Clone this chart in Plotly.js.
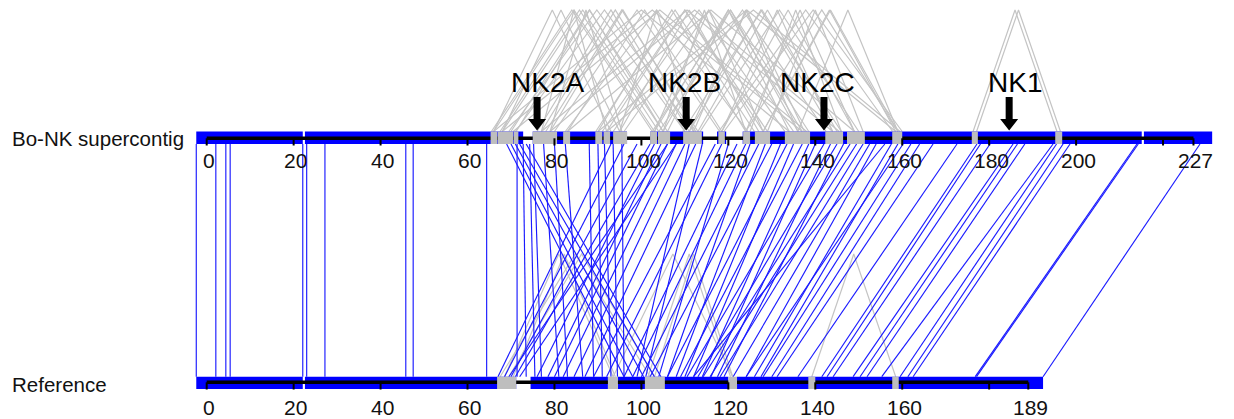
<!DOCTYPE html>
<html>
<head>
<meta charset="utf-8">
<script src="https://cdn.plot.ly/plotly-3.0.1.min.js"></script>
<style>html,body{margin:0;padding:0;background:#fff;}#chart{width:1234px;height:419px;}</style>
</head>
<body>
<div id="chart"></div>
<script>
// ---------- data (positions in kb) ----------
const topLength = 227;
const refLength = 189;
const topTicks = [0, 20, 40, 60, 80, 100, 120, 140, 160, 180, 200, 220, 227];
const topTickLabels = ["0", "20", "40", "60", "80", "100", "120", "140", "160", "180", "200", "", "227"];
const refTicks = [0, 20, 40, 60, 80, 100, 120, 140, 160, 180, 189];
const refTickLabels = ["0", "20", "40", "60", "80", "100", "120", "140", "160", "", "189"];

// blue contig blocks (start, end)
const topBlocks = [[-2.4, 22.1], [22.6, 72.8], [75, 96.7], [102, 114.2], [117.4, 119.5], [123.3, 215.1], [215.6, 231.3]];
const refBlocks = [[-2.4, 22.1], [22.6, 71.2], [74.5, 92.3], [94.6, 120], [122, 192.4]];

// grey repeat boxes (start, end)
const topRepeats = [[65.3, 66.9], [67, 70.5], [70.6, 71.7], [75, 80.6], [82, 83.6], [89.4, 91], [91.3, 92.8], [93.5, 96.7],
  [102, 103.6], [103.8, 106.6], [109.6, 113.9], [117.7, 119.2], [123.4, 125], [126.1, 129.6], [133, 138.8],
  [142.3, 146.4], [147.3, 151.4], [157.7, 160], [176, 177.4], [195.2, 196.8]];
const refRepeats = [[66.8, 71.2], [92.3, 94.6], [100.8, 105.4], [120, 122], [138.4, 140], [157.7, 159.2]];

// blue links: supercontig position -> reference position
const linkTop = [-2.4, 2.1, 4.4, 5.4, 22.1, 23, 27.2, 45.8, 47.5, 64.4,
  71.4, 72.8, 74.3, 75.2,
  69, 70, 71, 72, 73.5,
  93, 96, 99, 102, 106, 108,
  77.5, 80, 82.5, 88, 90, 91.5, 93.5, 95.5,
  103, 104.5, 106, 108, 110, 111, 112.5, 114, 117, 118.5, 120, 122, 124, 125, 127, 128.5, 130, 132, 133.5, 135,
  137, 138.5, 140, 142, 143.5, 145, 146.5, 148, 149.5, 151, 152.5, 154, 156, 157.5, 159,
  160.2, 162, 164, 167.1, 172.6, 177.2, 178, 180.2, 185.5, 186.5, 188.2, 194.7, 195.5, 197, 198.6, 214, 214.3, 228.5];
const linkRef = [-2.4, 2.1, 4.4, 5.4, 22.1, 23, 27.2, 45.8, 47.5, 64.4,
  71.4, 73.5, 75.5, 77,
  96, 98, 100.5, 103, 104.5,
  67, 68.5, 70, 71, 69.5, 72,
  81, 83, 86.5, 89, 91, 93, 94.5, 96,
  76, 78.5, 80, 82, 84.5, 99, 87, 101, 89, 92, 104, 96, 98, 106, 100, 108, 102, 110, 106, 112,
  109, 114, 116, 110.5, 117.5, 113, 119, 114.2, 115.8, 118.1, 121.1, 124.1, 112, 126, 127.5,
  124.1, 128, 130, 131.2, 136, 141.5, 142.7, 144.1, 148.7, 150.3, 151.9, 155.3, 159.5, 161.3, 162.5, 176.8, 177.1, 192.4];

// grey self-matches within the supercontig (position A, position B)
const topSelfA = [176.3, 177.1, 66, 68, 70, 71.2, 77, 79, 83, 90, 92, 95, 103, 105, 106, 111, 113, 118.5, 124, 128,
  66, 68, 70.5, 77, 79, 83, 90, 92, 66, 68, 77, 79, 95, 103, 105, 112, 111, 118.5, 124, 128, 136,
  65.5, 67.5, 69.5, 71, 76, 78, 80, 82.5, 89.5, 91, 93.5, 96, 102.5, 104, 109.5, 113.5, 117.8, 119, 125, 129];
const topSelfB = [195.6, 196.4, 103, 105, 106, 105, 111, 112.5, 118.5, 124, 128, 127, 137, 136, 134, 144, 145, 149, 159, 158.5,
  134, 137, 138, 144, 145.5, 149, 158.5, 159.5, 93, 95, 92, 95.5, 112, 128, 124, 136, 137.5, 144, 149, 159, 159,
  102.5, 104, 110, 112, 110, 113, 118, 124.5, 126, 129, 133, 135, 138.5, 142.5, 146, 150, 157.8, 160, 146, 151];

// grey self-matches within the reference
const refSelfA = [68.5, 69.5, 93.5, 103, 139.2, 70.5, 67.5, 101.5];
const refSelfB = [93.5, 103, 121, 121, 158.5, 94, 102, 120.5];

// gene markers
const geneNames = ["NK2A", "NK2B", "NK2C", "NK1"];
const genePos = [76, 110.3, 142, 184.6];
const geneLabelPos = [78.3, 110, 140.4, 186];

// ---------- layout constants (pixels, y measured from top) ----------
const PX0 = 206.7, PXU = 4.347, W = 1234, H = 419;
const XR = [-PX0 / PXU, (W - PX0) / PXU];
const T = {barTop: 131.5, barBot: 144, axis: 138.3, tick: 145.5, label: 160, apex: 10};
const R = {barTop: 376.7, barBot: 389, axis: 382.3, tick: 389.5, label: 407, apex: 254};

const shapes = [];
const annotations = [];
const FONT = "Liberation Sans, Arial, sans-serif";

function rect(x0, x1, y0, y1, color) {
  shapes.push({type: "rect", xref: "x", yref: "y", x0: x0, x1: x1, y0: y0, y1: y1,
    fillcolor: color, line: {width: 0}, layer: "above"});
}
function seg(x0, x1, y0, y1, color, w) {
  shapes.push({type: "line", xref: "x", yref: "y", x0: x0, x1: x1, y0: y0, y1: y1,
    line: {color: color, width: w}, layer: "above"});
}

function track(blocks, repeats, len, ticks, labels, S) {
  blocks.forEach(b => rect(b[0], b[1], S.barTop, S.barBot, "#0000ff"));
  seg(0, len, S.axis, S.axis, "#000", 3.5);
  repeats.forEach(r => rect(r[0], r[1], S.barTop, S.barBot, "#bebebe"));
  ticks.forEach((t, i) => {
    seg(t, t, S.axis, S.tick, "#000", 2);
    if (labels[i]) annotations.push({x: t + 0.5, y: S.label, xref: "x", yref: "y", text: labels[i], showarrow: false,
      xanchor: "center", yanchor: "middle", font: {family: FONT, size: 21, color: "#111"}});
  });
}
track(topBlocks, topRepeats, topLength, topTicks, topTickLabels, T);
track(refBlocks, refRepeats, refLength, refTicks, refTickLabels, R);

// links
const bx = [], by = [];
linkTop.forEach((t, i) => { bx.push(t, linkRef[i], null); by.push(T.barBot, R.barTop, null); });
const gx = [], gy = [];
topSelfA.forEach((a, i) => { const b = topSelfB[i]; gx.push(a, (a + b) / 2, b, null); gy.push(T.barTop, T.apex, T.barTop, null); });
refSelfA.forEach((a, i) => { const b = refSelfB[i]; gx.push(a, (a + b) / 2, b, null); gy.push(R.barTop, R.apex, R.barTop, null); });

// arrows
genePos.forEach((p, i) => {
  shapes.push({type: "path", xref: "x", yref: "y", xsizemode: "pixel", xanchor: p,
    path: "M -3.5,97 L 3.5,97 L 3.5,119 L 9,119 L 0,130.5 L -9,119 L -3.5,119 Z",
    fillcolor: "#000", line: {width: 0}, layer: "above"});
  annotations.push({x: geneLabelPos[i], y: 82, xref: "x", yref: "y", text: geneNames[i], showarrow: false,
    xanchor: "center", yanchor: "middle", font: {family: FONT, size: 28, color: "#000"}});
});

annotations.push({x: 10 / W, y: 138, xref: "paper", yref: "y", text: "Bo-NK supercontig", showarrow: false,
  xanchor: "left", yanchor: "middle", font: {family: FONT, size: 20.5, color: "#111"}});
annotations.push({x: 10 / W, y: 384, xref: "paper", yref: "y", text: "Reference", showarrow: false,
  xanchor: "left", yanchor: "middle", font: {family: FONT, size: 20.5, color: "#111"}});

const traces = [
  {type: "scatter", mode: "lines", x: gx, y: gy, line: {color: "#c4c4c4", width: 1.2}, hoverinfo: "skip", showlegend: false},
  {type: "scatter", mode: "lines", x: bx, y: by, line: {color: "#1a1aff", width: 1.15}, hoverinfo: "skip", showlegend: false}
];

const layout = {
  width: W, height: H, margin: {l: 0, r: 0, t: 0, b: 0},
  paper_bgcolor: "#fff", plot_bgcolor: "#fff", showlegend: false,
  xaxis: {range: XR, visible: false, fixedrange: true},
  yaxis: {range: [H, 0], visible: false, fixedrange: true},
  shapes: shapes, annotations: annotations
};
Plotly.newPlot("chart", traces, layout, {staticPlot: true, displayModeBar: false});
</script>
</body>
</html>
